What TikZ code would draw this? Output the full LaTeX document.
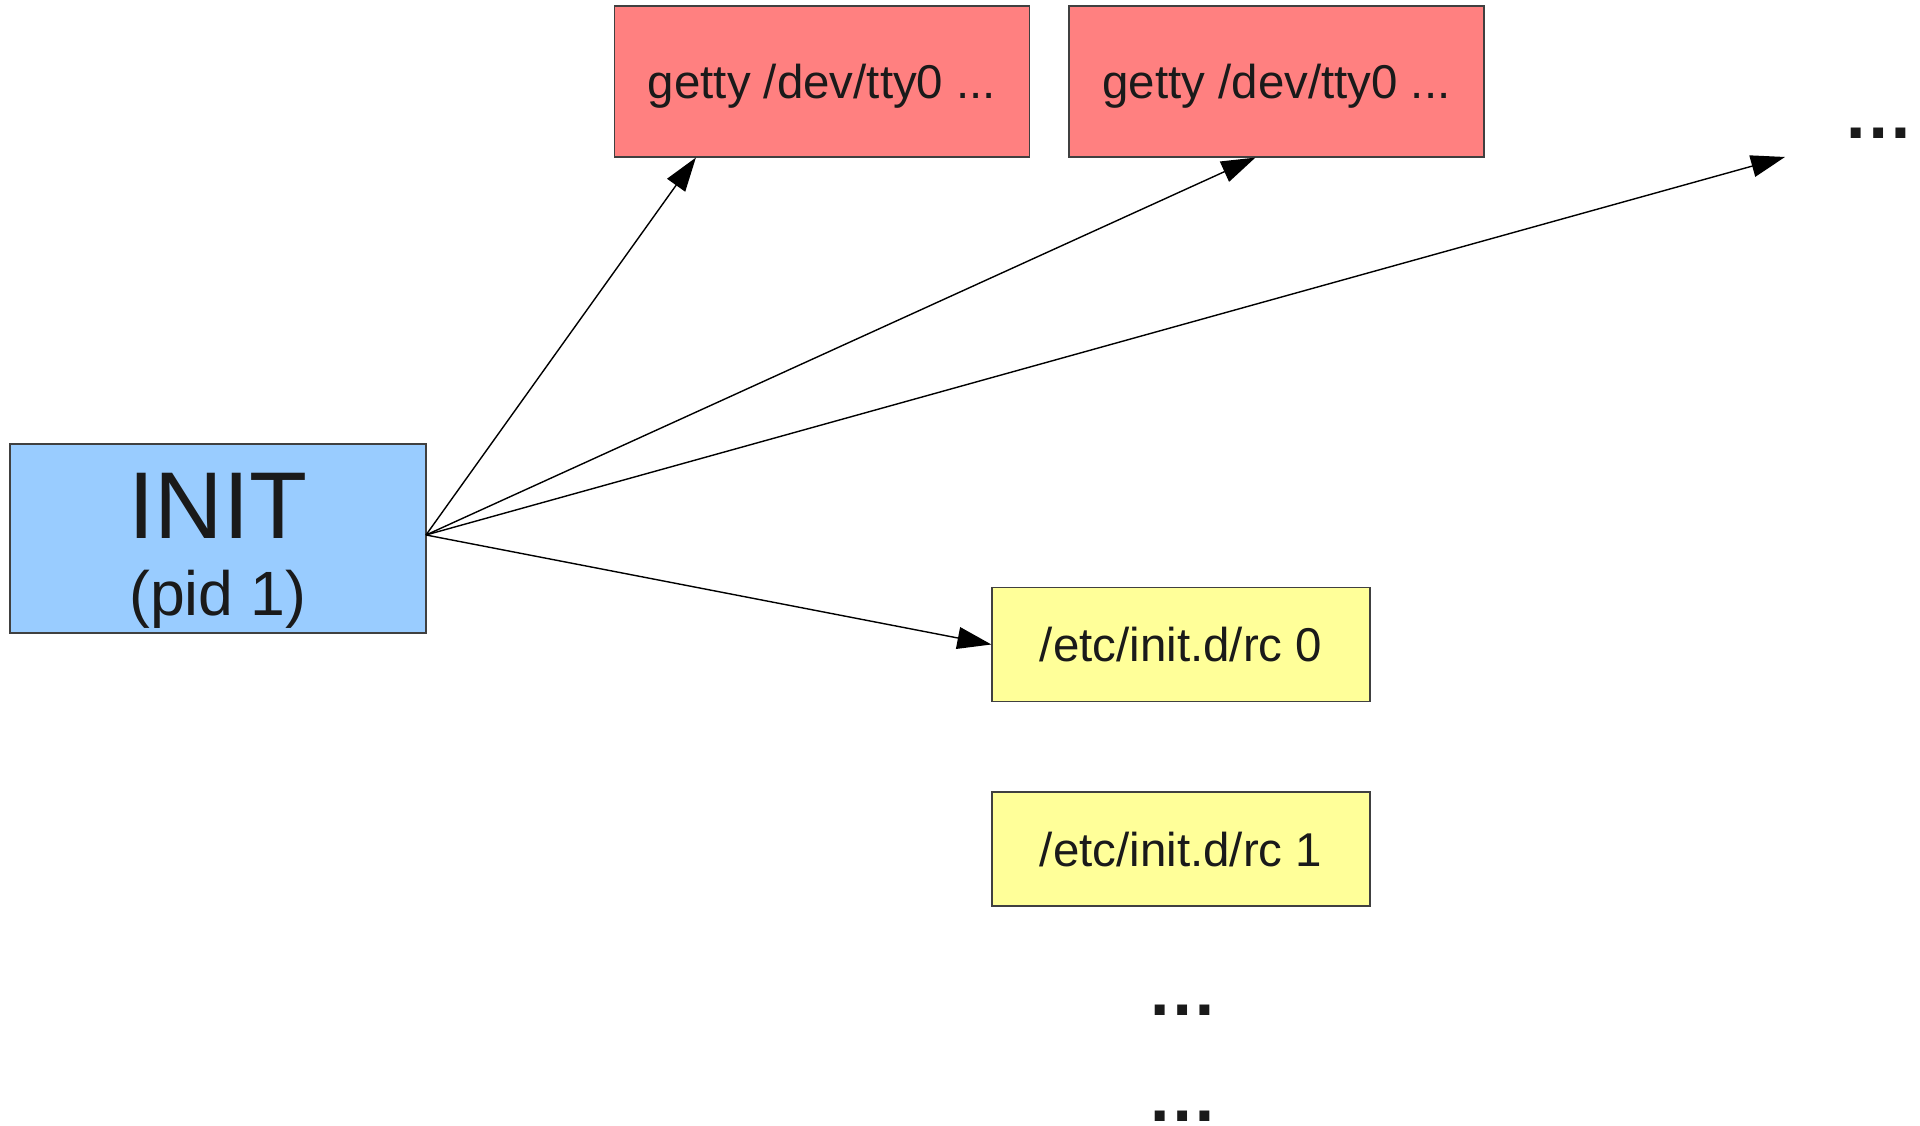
\documentclass[tikz,border=0pt]{standalone}
\usepackage{fontspec}
\setmainfont{Liberation Sans}
\usetikzlibrary{arrows.meta,positioning,calc}
\tikzset{>={Triangle[length=3.4mm,width=2.2mm]}}
\definecolor{initblue}{HTML}{99CCFF}
\definecolor{gettyred}{HTML}{FF8080}
\definecolor{rcyellow}{HTML}{FFFF99}
\definecolor{ink}{HTML}{1A1A1A}
\tikzset{box/.style={draw=black!75,line width=0.35pt,inner sep=0pt,text=ink,
    font=\fontsize{13.5}{16}\selectfont},
  getty/.style={box,fill=gettyred,minimum width=41.5mm,minimum height=15.1mm,
    text height=10pt,text depth=0.3pt},
  rcbox/.style={box,fill=rcyellow,minimum width=37.8mm,minimum height=11.4mm,
    text height=10pt,text depth=0.3pt},
  dots/.style={anchor=base,inner sep=0pt,text=ink,font=\fontsize{20}{20}\selectfont\bfseries},
  fanout/.style={->,line width=0.4pt}}

\begin{document}
\begin{tikzpicture}[x=0.1mm,y=-0.1mm]
  \useasboundingbox (0,0) rectangle (1920,1126);
  \node[box,fill=initblue,minimum width=41.6mm,minimum height=18.9mm,align=center] (init) at (218,538.5)
    {\fontsize{27}{27}\selectfont\rule{0pt}{25.7pt}INIT\\[2.05mm]\fontsize{17.8}{21}\selectfont (pid 1)};
  \node[getty] (g1) at (822,81.5) {getty /dev/tty0 ...};
  \node[getty] (g2) at (1276.5,81.5) {getty /dev/tty0 ...};
  \node[rcbox] (rc0) at (1181,644.5) {/etc/init.d/rc 0};
  \node[rcbox] (rc1) at (1181,849) {/etc/init.d/rc 1};
  \node[dots] (more) at (1879,138.5) {…};
  \node[dots] (d1) at (1183,1015.5) {…};
  \node[dots] (d2) at (1183,1121.5) {…};
  \coordinate (fan) at (426,535);
  \coordinate (tip) at (1785,157);
  \draw[fanout] (fan) -- ([xshift=8.2mm]g1.south west);
  \draw[fanout] (fan) -- ([xshift=18.7mm]g2.south west);
  \draw[fanout] (fan) -- (tip);
  \draw[fanout] (fan) -- (rc0.west);
\end{tikzpicture}
\end{document}
